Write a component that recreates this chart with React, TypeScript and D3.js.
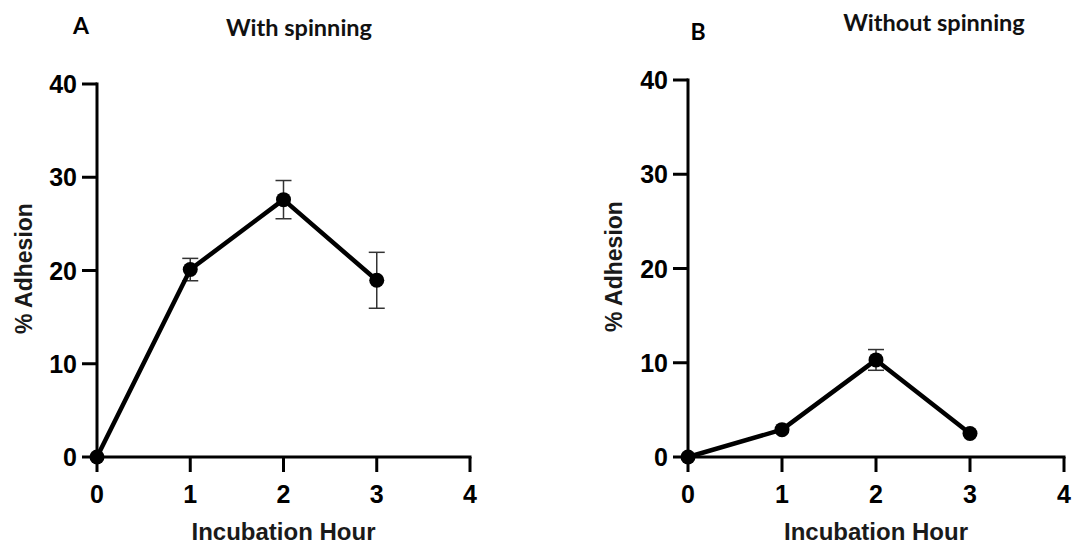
import React from "react";
import * as d3 from "d3";

// Incubation hours on the x axis
const hours = [0, 1, 2, 3];
// Mean % adhesion and error (±) for each panel
const withSpinning = [0, 20.1, 27.6, 18.95];
const withSpinningErr = [0, 1.2, 2.05, 3.0];
const withoutSpinning = [0, 2.9, 10.3, 2.5];
const withoutSpinningErr = [0, 0, 1.1, 0];

const xTicks = [0, 1, 2, 3, 4];
const yTicks = [0, 10, 20, 30, 40];

const panels = [
  {
    letter: "A",
    title: "With spinning",
    values: withSpinning,
    errors: withSpinningErr,
    xRange: [97, 470],
    yRange: [457, 84],
    letterPos: [81, 34],
    titlePos: [299, 36],
    yTitleX: 32,
  },
  {
    letter: "B",
    title: "Without spinning",
    values: withoutSpinning,
    errors: withoutSpinningErr,
    xRange: [688, 1064],
    yRange: [457, 80],
    letterPos: [698, 40],
    titlePos: [934, 31],
    yTitleX: 622,
  },
];

const tickFont = "'Liberation Sans', Arial, sans-serif";
const titleFont = "Lato, 'Open Sans', sans-serif";

function Panel({ p }: { p: (typeof panels)[number] }) {
  const x = d3.scaleLinear().domain([0, 4]).range(p.xRange);
  const y = d3.scaleLinear().domain([0, 40]).range(p.yRange);
  const line = d3
    .line<number>()
    .x((_, i) => x(hours[i]))
    .y((d) => y(d));
  const tickLen = 15;
  const x0 = x(0);
  const y0 = y(0);
  const capHalf = 8;

  return (
    <g>
      {/* panel letter and title */}
      <text x={p.letterPos[0]} y={p.letterPos[1]} textAnchor="middle" fontFamily={titleFont} fontWeight={700} fontSize={23} fill="#000">
        {p.letter}
      </text>
      <text x={p.titlePos[0]} y={p.titlePos[1]} textAnchor="middle" fontFamily={titleFont} fontWeight={700} fontSize={23.5} fill="#111">
        {p.title}
      </text>

      {/* axes */}
      <line x1={x0} x2={x0} y1={y(40)} y2={y0} stroke="#000" strokeWidth={3} strokeLinecap="square" />
      <line x1={x0} x2={x(4)} y1={y0} y2={y0} stroke="#000" strokeWidth={3} strokeLinecap="square" />
      {yTicks.map((t) => (
        <g key={"y" + t}>
          <line x1={x0 - tickLen} x2={x0} y1={y(t)} y2={y(t)} stroke="#000" strokeWidth={3} />
          <text x={x0 - 20} y={y(t)} dy="0.36em" textAnchor="end" fontFamily={tickFont} fontWeight={700} fontSize={25} fill="#000">
            {t}
          </text>
        </g>
      ))}
      {xTicks.map((t) => (
        <g key={"x" + t}>
          <line x1={x(t)} x2={x(t)} y1={y0} y2={y0 + tickLen} stroke="#000" strokeWidth={3} />
          <text x={x(t)} y={y0 + 46} textAnchor="middle" fontFamily={tickFont} fontWeight={700} fontSize={25} fill="#000">
            {t}
          </text>
        </g>
      ))}

      {/* axis titles */}
      <text x={x(2)} y={540} textAnchor="middle" fontFamily={tickFont} fontWeight={700} fontSize={24} fill="#1a1a1a">
        Incubation Hour
      </text>
      <text
        transform={`translate(${p.yTitleX},${(y(40) + y0) / 2 - 2}) rotate(-90)`}
        textAnchor="middle"
        fontFamily={tickFont}
        fontWeight={700}
        fontSize={23}
        fill="#1a1a1a"
      >
        % Adhesion
      </text>

      {/* error bars */}
      {p.values.map((v, i) =>
        p.errors[i] > 0 ? (
          <g key={"e" + i} stroke="#333" strokeWidth={1.5}>
            <line x1={x(hours[i])} x2={x(hours[i])} y1={y(v + p.errors[i])} y2={y(v - p.errors[i])} />
            <line x1={x(hours[i]) - capHalf} x2={x(hours[i]) + capHalf} y1={y(v + p.errors[i])} y2={y(v + p.errors[i])} />
            <line x1={x(hours[i]) - capHalf} x2={x(hours[i]) + capHalf} y1={y(v - p.errors[i])} y2={y(v - p.errors[i])} />
          </g>
        ) : null
      )}

      {/* mean line and markers */}
      <path d={line(p.values) ?? ""} fill="none" stroke="#000" strokeWidth={4.5} strokeLinejoin="round" />
      {p.values.map((v, i) => (
        <circle key={"c" + i} cx={x(hours[i])} cy={y(v)} r={7.5} fill="#000" />
      ))}
    </g>
  );
}

export default function App() {
  return (
    <svg
      width={1075}
      height={546}
      style={{ position: "absolute", left: 0, top: 0, background: "#fff" }}
    >
      <rect width={1075} height={546} fill="#fff" />
      {panels.map((p) => (
        <Panel key={p.letter} p={p} />
      ))}
    </svg>
  );
}
